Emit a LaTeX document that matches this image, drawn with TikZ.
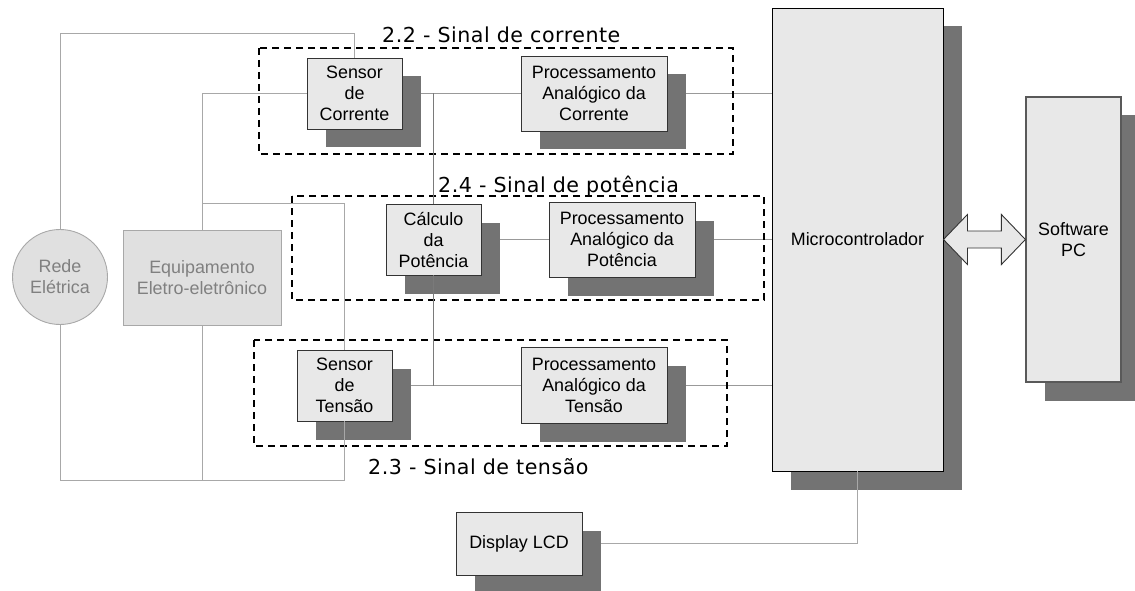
\documentclass[tikz,border=0pt]{standalone}
\usepackage{fontspec}
\setmainfont{Liberation Sans}
\newfontfamily\labelfont[LetterSpace=2.5]{DejaVu Sans}
\usetikzlibrary{shadows,calc}

\definecolor{boxfill}{HTML}{E8E8E8}
\definecolor{shadowgray}{HTML}{737373}
\definecolor{mainswire}{HTML}{A8A8A8}
\definecolor{sigwire}{HTML}{999999}
\definecolor{tapwire}{HTML}{7A7A7A}
\definecolor{ghostfill}{HTML}{E0E0E0}
\definecolor{ghostline}{HTML}{A8A8A8}
\definecolor{ghosttext}{HTML}{808080}

\pgfdeclarelayer{wires}
\pgfsetlayers{wires,main}

\tikzset{
  boxtext/.style={font=\fontsize{17.9}{21}\selectfont},
  block/.style={boxtext, draw=black!80, line width=0.9pt, fill=boxfill,
    align=center, inner sep=0pt,
    drop shadow={shadow xshift=19pt, shadow yshift=-18.5pt, fill=shadowgray, opacity=1}},
  ghost/.style={boxtext, draw=ghostline, line width=0.9pt, fill=ghostfill,
    text=ghosttext, align=center, inner sep=0pt},
  mains/.style={draw=mainswire, line width=1pt},
  signal/.style={draw=sigwire, line width=1pt},
  tap/.style={draw=tapwire, line width=1pt},
  group/.style={draw=black, line width=1.8pt, dash pattern=on 7pt off 5pt},
  grouplabel/.style={anchor=base west, inner sep=0pt, font=\labelfont\fontsize{20.6}{24}\selectfont},
}

\begin{document}
\begin{tikzpicture}[x=1pt,y=-1pt]
\useasboundingbox (0,0) rectangle (1135,591);

% signal groups
\draw[group] (259,48) rectangle (733,154);
\draw[group] (292,196) rectangle (764,300);
\draw[group] (254,340) rectangle (727,446);
\node[grouplabel] (l22) at (382,43) {2.2 - Sinal de corrente};
\node[grouplabel] (l24) at (438,192) {2.4 - Sinal de potência};
\node[grouplabel] (l23) at (368,474) {2.3 - Sinal de tensão};

% mains side
\node[ghost, circle, minimum size=95pt] (rede) at (60,277) {Rede\\Elétrica};
\node[ghost, minimum width=158pt, minimum height=95pt] (equip) at (202,277.5) {Equipamento\\Eletro-eletrônico};

% blocks
\node[block, minimum width=95pt, minimum height=71pt] (sc) at (354.5,93.5) {Sensor\\de\\Corrente};
\node[block, minimum width=146pt, minimum height=75pt] (pc1) at (594,93.5) {Processamento\\Analógico da\\Corrente};
\node[block, minimum width=95pt, minimum height=71pt] (calc) at (433.5,239.5) {Cálculo\\da\\Potência};
\node[block, minimum width=146pt, minimum height=75pt] (pp) at (622,239.5) {Processamento\\Analógico da\\Potência};
\node[block, minimum width=95pt, minimum height=71pt] (st) at (344.5,385.5) {Sensor\\de\\Tensão};
\node[block, minimum width=146pt, minimum height=76pt] (pt) at (594,385.5) {Processamento\\Analógico da\\Tensão};
\node[block, draw=black, minimum width=171pt, minimum height=463pt] (mcu) at (857.5,239.5) {Microcontrolador};
\node[block, draw=black!65, line width=1.2pt, minimum width=95pt, minimum height=285pt] (pcbox) at (1073.5,239.5) {Software\\PC};
\node[block, minimum width=126pt, minimum height=63pt] (lcd) at (519,543.5) {Display LCD};

% junction points of the wiring
\coordinate (topw) at (354.5,34);
\coordinate (eqbr) at (202,203);
\coordinate (botw) at (344.5,480);
\coordinate (lcdc) at (mcu.south |- lcd.east);

% wiring hidden behind the shadows
\begin{pgfonlayer}{wires}
  \draw[signal] (sc.east) -- (pc1.west);
  \draw[signal] (pc1.east) -- (mcu.west |- pc1.east);
  \draw[signal] (calc.east) -- (pp.west);
  \draw[signal] (pp.east) -- (mcu.west |- pp.east);
  \draw[signal] (st.east) -- (pt.west);
  \draw[signal] (pt.east) -- (mcu.west |- pt.east);
  \draw[mains] (lcdc) -- (lcd.east);
\end{pgfonlayer}

% mains wiring
\draw[mains] (rede.north) |- (topw) -- (sc.north);
\draw[mains] (equip.north) |- (sc.west);
\draw[mains] (eqbr) -| (st.north);
\draw[mains] (rede.south) |- (botw);
\draw[mains] (equip.south) -- (equip.south |- botw);
\draw[mains] (st.south) -- (botw);

% power tap
\draw[tap] (calc.north |- sc.east) -- (calc.north);
\draw[tap] (calc.south) -- (calc.south |- st.east);

% display link
\draw[mains] (mcu.south) -- (lcdc);

% PC link
\draw[fill=boxfill, draw=black!80, line width=0.9pt, line join=miter]
  (mcu.east) -- ++(24,-25) -- ++(0,16.5)
  -- ($(pcbox.west)+(-24,-8.5)$) -- ++(0,-16.5) -- (pcbox.west)
  -- ++(-24,25) -- ++(0,-16.5)
  -- ($(mcu.east)+(24,8.5)$) -- ++(0,16.5) -- cycle;
\end{tikzpicture}
\end{document}
